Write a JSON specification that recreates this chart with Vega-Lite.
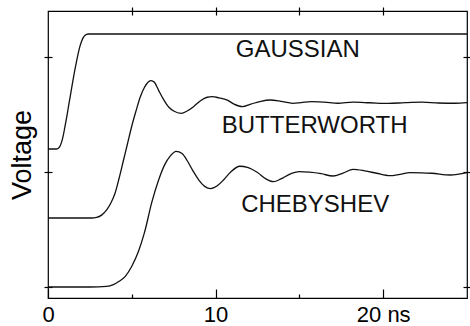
{
  "$schema": "https://vega.github.io/schema/vega-lite/v6.json",
  "width": 419,
  "height": 287,
  "autosize": {"type": "none"},
  "padding": {"left": 48, "top": 11, "right": 3, "bottom": 28},
  "background": "white",
  "config": {
    "view": {"stroke": "#000", "strokeWidth": 1.2},
    "font": "Liberation Sans",
    "axis": {"grid": false, "domain": false, "tickColor": "#000", "tickWidth": 1.2, "labelColor": "#000", "titleColor": "#000"}
  },
  "datasets": {
    "curves": [
      {"s": "G", "t": 0, "v": 1.2}, {"s": "G", "t": 0.5, "v": 1.2}, {"s": "G", "t": 0.6, "v": 1.205}, {"s": "G", "t": 0.7, "v": 1.22},
      {"s": "G", "t": 0.8, "v": 1.255}, {"s": "G", "t": 0.9, "v": 1.31}, {"s": "G", "t": 1.0, "v": 1.385}, {"s": "G", "t": 1.1, "v": 1.465},
      {"s": "G", "t": 1.2, "v": 1.55}, {"s": "G", "t": 1.3, "v": 1.635}, {"s": "G", "t": 1.4, "v": 1.72}, {"s": "G", "t": 1.5, "v": 1.805},
      {"s": "G", "t": 1.6, "v": 1.885}, {"s": "G", "t": 1.7, "v": 1.96}, {"s": "G", "t": 1.8, "v": 2.03}, {"s": "G", "t": 1.9, "v": 2.09},
      {"s": "G", "t": 2.0, "v": 2.135}, {"s": "G", "t": 2.1, "v": 2.168}, {"s": "G", "t": 2.2, "v": 2.188}, {"s": "G", "t": 2.4, "v": 2.2},
      {"s": "G", "t": 25, "v": 2.2},
      {"s": "B", "t": 0, "v": 0.6}, {"s": "B", "t": 2.6, "v": 0.6}, {"s": "B", "t": 2.9, "v": 0.605}, {"s": "B", "t": 3.2, "v": 0.625},
      {"s": "B", "t": 3.5, "v": 0.67}, {"s": "B", "t": 3.75, "v": 0.73}, {"s": "B", "t": 4.0, "v": 0.815}, {"s": "B", "t": 4.25, "v": 0.95},
      {"s": "B", "t": 4.5, "v": 1.1}, {"s": "B", "t": 4.75, "v": 1.25}, {"s": "B", "t": 5.0, "v": 1.4}, {"s": "B", "t": 5.25, "v": 1.53},
      {"s": "B", "t": 5.5, "v": 1.65}, {"s": "B", "t": 5.75, "v": 1.735}, {"s": "B", "t": 6.0, "v": 1.785}, {"s": "B", "t": 6.15, "v": 1.795},
      {"s": "B", "t": 6.35, "v": 1.78}, {"s": "B", "t": 6.6, "v": 1.71}, {"s": "B", "t": 6.9, "v": 1.63}, {"s": "B", "t": 7.2, "v": 1.565},
      {"s": "B", "t": 7.5, "v": 1.53}, {"s": "B", "t": 7.95, "v": 1.51}, {"s": "B", "t": 8.3, "v": 1.53}, {"s": "B", "t": 8.7, "v": 1.57},
      {"s": "B", "t": 9.1, "v": 1.62}, {"s": "B", "t": 9.5, "v": 1.65}, {"s": "B", "t": 9.8, "v": 1.655}, {"s": "B", "t": 10.2, "v": 1.645},
      {"s": "B", "t": 10.7, "v": 1.625}, {"s": "B", "t": 11.1, "v": 1.59}, {"s": "B", "t": 11.6, "v": 1.568}, {"s": "B", "t": 12.1, "v": 1.59},
      {"s": "B", "t": 12.7, "v": 1.615}, {"s": "B", "t": 13.25, "v": 1.626}, {"s": "B", "t": 13.9, "v": 1.615}, {"s": "B", "t": 14.6, "v": 1.597},
      {"s": "B", "t": 15.1, "v": 1.603}, {"s": "B", "t": 15.7, "v": 1.612}, {"s": "B", "t": 16.5, "v": 1.607}, {"s": "B", "t": 17.3, "v": 1.598},
      {"s": "B", "t": 18.2, "v": 1.607}, {"s": "B", "t": 19.2, "v": 1.602}, {"s": "B", "t": 20.3, "v": 1.596}, {"s": "B", "t": 21.3, "v": 1.603},
      {"s": "B", "t": 22.3, "v": 1.607}, {"s": "B", "t": 23.3, "v": 1.6}, {"s": "B", "t": 24.3, "v": 1.598}, {"s": "B", "t": 25, "v": 1.603},
      {"s": "C", "t": 0, "v": 0.0}, {"s": "C", "t": 2.5, "v": 0.0}, {"s": "C", "t": 3.5, "v": 0.005}, {"s": "C", "t": 3.9, "v": 0.02},
      {"s": "C", "t": 4.2, "v": 0.045}, {"s": "C", "t": 4.6, "v": 0.09}, {"s": "C", "t": 5.0, "v": 0.18}, {"s": "C", "t": 5.4, "v": 0.31},
      {"s": "C", "t": 5.75, "v": 0.47}, {"s": "C", "t": 6.2, "v": 0.74}, {"s": "C", "t": 6.6, "v": 0.93}, {"s": "C", "t": 6.95, "v": 1.06},
      {"s": "C", "t": 7.3, "v": 1.14}, {"s": "C", "t": 7.64, "v": 1.18}, {"s": "C", "t": 8.0, "v": 1.16}, {"s": "C", "t": 8.3, "v": 1.1},
      {"s": "C", "t": 8.65, "v": 1.01}, {"s": "C", "t": 9.0, "v": 0.93}, {"s": "C", "t": 9.35, "v": 0.875}, {"s": "C", "t": 9.7, "v": 0.855},
      {"s": "C", "t": 10.1, "v": 0.88}, {"s": "C", "t": 10.5, "v": 0.935}, {"s": "C", "t": 10.9, "v": 1.0}, {"s": "C", "t": 11.45, "v": 1.05},
      {"s": "C", "t": 11.9, "v": 1.04}, {"s": "C", "t": 12.5, "v": 0.995}, {"s": "C", "t": 13.0, "v": 0.94}, {"s": "C", "t": 13.45, "v": 0.916},
      {"s": "C", "t": 13.9, "v": 0.94}, {"s": "C", "t": 14.4, "v": 0.98}, {"s": "C", "t": 15.0, "v": 1.003}, {"s": "C", "t": 15.6, "v": 0.998},
      {"s": "C", "t": 16.3, "v": 0.985}, {"s": "C", "t": 17.0, "v": 0.965}, {"s": "C", "t": 17.6, "v": 0.99}, {"s": "C", "t": 18.2, "v": 1.023},
      {"s": "C", "t": 18.9, "v": 1.01}, {"s": "C", "t": 19.6, "v": 0.989}, {"s": "C", "t": 20.4, "v": 0.968}, {"s": "C", "t": 21.0, "v": 0.98},
      {"s": "C", "t": 21.6, "v": 0.994}, {"s": "C", "t": 22.3, "v": 0.993}, {"s": "C", "t": 22.9, "v": 0.989}, {"s": "C", "t": 24.0, "v": 0.974},
      {"s": "C", "t": 25, "v": 0.994}
    ],
    "labels": [
      {"t": 14.9, "v": 2.0, "label": "GAUSSIAN"},
      {"t": 15.91, "v": 1.339, "label": "BUTTERWORTH"},
      {"t": 15.94, "v": 0.652, "label": "CHEBYSHEV"}
    ]
  },
  "layer": [
    {
      "data": {"name": "curves"},
      "mark": {"type": "line", "interpolate": "monotone", "color": "#111", "strokeWidth": 1.3},
      "encoding": {
        "x": {
          "field": "t", "type": "quantitative",
          "scale": {"domain": [0, 25], "nice": false, "zero": false},
          "axis": {
            "orient": "bottom", "values": [0, 5, 10, 15, 20], "title": null,
            "tickSize": {"condition": {"test": "datum.value % 10 === 0", "value": -9}, "value": -4},
            "labelExpr": "datum.value == 20 ? '\u00a0\u00a0\u00a0\u00a0\u00a020 ns' : (datum.value == 0 || datum.value == 10 ? datum.label : '')",
            "labelFontSize": 22, "labelPadding": 15, "labelFlush": false, "labelOverlap": false
          }
        },
        "y": {
          "field": "v", "type": "quantitative",
          "scale": {"domain": [-0.0957, 2.4], "nice": false, "zero": false},
          "axis": {
            "orient": "left", "values": [0, 1, 2], "labels": false, "tickSize": 8, "offset": -4,
            "title": "Voltage", "titleFontSize": 27, "titleFontWeight": "normal", "titlePadding": 7
          }
        },
        "detail": {"field": "s"}
      }
    },
    {
      "data": {"name": "labels"},
      "mark": {"type": "text", "fontSize": 24, "align": "center", "baseline": "alphabetic", "color": "#111"},
      "encoding": {
        "x": {
          "field": "t", "type": "quantitative",
          "axis": {"orient": "top", "values": [5, 10, 15, 20], "labels": false, "tickSize": 8, "offset": -4, "title": null}
        },
        "y": {
          "field": "v", "type": "quantitative",
          "axis": {"orient": "right", "values": [0, 1, 2], "labels": false, "tickSize": 8, "offset": -4, "title": null}
        },
        "text": {"field": "label"}
      }
    }
  ],
  "resolve": {"axis": {"x": "independent", "y": "independent"}}
}
